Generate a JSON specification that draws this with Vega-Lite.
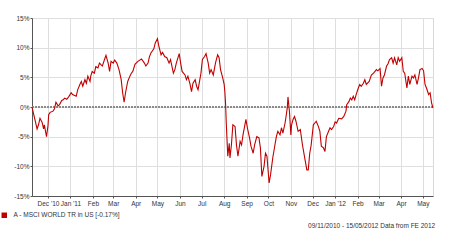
{
  "$schema": "https://vega.github.io/schema/vega-lite/v6.json",
  "width": 401,
  "height": 178,
  "autosize": "none",
  "padding": {"left": 32, "top": 18, "right": 17, "bottom": 45},
  "background": "white",
  "config": {
    "font": "Liberation Sans",
    "view": {"stroke": "#d9d9d9", "strokeWidth": 1},
    "axis": {"labelFont": "Liberation Sans", "labelFontSize": 6.5, "labelColor": "#333333", "gridColor": "#dedede", "gridWidth": 1, "title": null, "grid": true, "labelOverlap": false}
  },
  "title": {"text": "09/11/2010 - 15/05/2012 Data from FE 2012", "orient": "bottom", "anchor": "end", "fontSize": 6.5, "fontWeight": "normal", "color": "#333333", "font": "Liberation Sans", "offset": 4},
  "data": {"values": [
    {"d":"2010-11-09","v":0.0},{"d":"2010-11-12","v":-1.6},{"d":"2010-11-16","v":-3.7},{"d":"2010-11-18","v":-3.0},{"d":"2010-11-20","v":-1.9},{"d":"2010-11-23","v":-2.6},{"d":"2010-11-25","v":-3.7},{"d":"2010-11-26","v":-3.0},{"d":"2010-11-29","v":-5.0},
    {"d":"2010-12-01","v":-3.2},{"d":"2010-12-02","v":-1.3},{"d":"2010-12-04","v":-0.9},{"d":"2010-12-08","v":-0.7},{"d":"2010-12-10","v":-0.3},{"d":"2010-12-12","v":0.8},{"d":"2010-12-15","v":0.2},{"d":"2010-12-17","v":0.4},{"d":"2010-12-20","v":1.1},{"d":"2010-12-22","v":1.2},{"d":"2010-12-24","v":1.5},{"d":"2010-12-27","v":1.3},{"d":"2010-12-30","v":1.8},
    {"d":"2011-01-02","v":2.4},{"d":"2011-01-04","v":2.1},{"d":"2011-01-09","v":1.8},{"d":"2011-01-11","v":2.9},{"d":"2011-01-14","v":3.8},{"d":"2011-01-16","v":4.3},{"d":"2011-01-18","v":3.5},{"d":"2011-01-21","v":4.6},{"d":"2011-01-23","v":4.0},{"d":"2011-01-25","v":5.2},{"d":"2011-01-28","v":4.3},{"d":"2011-01-29","v":5.2},{"d":"2011-01-31","v":6.0},
    {"d":"2011-02-03","v":5.7},{"d":"2011-02-05","v":6.8},{"d":"2011-02-08","v":6.6},{"d":"2011-02-10","v":7.4},{"d":"2011-02-14","v":6.9},{"d":"2011-02-17","v":8.0},{"d":"2011-02-19","v":8.7},{"d":"2011-02-22","v":7.4},{"d":"2011-02-24","v":6.0},{"d":"2011-02-26","v":7.7},
    {"d":"2011-03-01","v":7.4},{"d":"2011-03-03","v":7.9},{"d":"2011-03-06","v":7.4},{"d":"2011-03-09","v":6.3},{"d":"2011-03-12","v":4.6},{"d":"2011-03-14","v":2.4},{"d":"2011-03-16","v":0.8},{"d":"2011-03-18","v":2.4},{"d":"2011-03-21","v":4.3},{"d":"2011-03-24","v":5.2},{"d":"2011-03-26","v":5.7},{"d":"2011-03-28","v":6.0},{"d":"2011-03-31","v":7.2},
    {"d":"2011-04-04","v":7.7},{"d":"2011-04-09","v":8.1},{"d":"2011-04-13","v":7.4},{"d":"2011-04-15","v":6.9},{"d":"2011-04-18","v":7.4},{"d":"2011-04-20","v":8.5},{"d":"2011-04-22","v":9.1},{"d":"2011-04-26","v":9.8},{"d":"2011-04-28","v":10.8},{"d":"2011-05-01","v":11.5},
    {"d":"2011-05-03","v":10.2},{"d":"2011-05-06","v":8.8},{"d":"2011-05-08","v":9.2},{"d":"2011-05-11","v":8.5},{"d":"2011-05-14","v":8.3},{"d":"2011-05-17","v":7.4},{"d":"2011-05-19","v":8.0},{"d":"2011-05-23","v":5.7},{"d":"2011-05-25","v":6.3},{"d":"2011-05-27","v":7.4},{"d":"2011-05-31","v":9.0},
    {"d":"2011-06-02","v":7.4},{"d":"2011-06-04","v":6.0},{"d":"2011-06-08","v":5.4},{"d":"2011-06-10","v":4.6},{"d":"2011-06-12","v":5.2},{"d":"2011-06-15","v":3.8},{"d":"2011-06-17","v":2.6},{"d":"2011-06-19","v":4.0},{"d":"2011-06-22","v":4.6},{"d":"2011-06-24","v":3.5},{"d":"2011-06-26","v":2.9},{"d":"2011-06-30","v":5.7},
    {"d":"2011-07-02","v":8.0},{"d":"2011-07-05","v":8.5},{"d":"2011-07-07","v":9.0},{"d":"2011-07-10","v":7.4},{"d":"2011-07-12","v":5.7},{"d":"2011-07-14","v":6.3},{"d":"2011-07-17","v":5.4},{"d":"2011-07-20","v":7.4},{"d":"2011-07-23","v":8.8},{"d":"2011-07-25","v":8.3},{"d":"2011-07-27","v":6.3},{"d":"2011-07-30","v":4.9},
    {"d":"2011-08-01","v":3.8},{"d":"2011-08-02","v":2.5},{"d":"2011-08-03","v":0.4},{"d":"2011-08-04","v":-3.0},{"d":"2011-08-06","v":-8.3},{"d":"2011-08-08","v":-6.1},{"d":"2011-08-09","v":-8.6},{"d":"2011-08-11","v":-6.4},{"d":"2011-08-13","v":-3.0},{"d":"2011-08-16","v":-3.3},{"d":"2011-08-18","v":-6.4},{"d":"2011-08-20","v":-8.3},{"d":"2011-08-23","v":-5.8},{"d":"2011-08-25","v":-6.4},{"d":"2011-08-27","v":-4.7},{"d":"2011-08-31","v":-2.1},
    {"d":"2011-09-02","v":-3.5},{"d":"2011-09-05","v":-5.2},{"d":"2011-09-07","v":-6.6},{"d":"2011-09-10","v":-7.8},{"d":"2011-09-12","v":-6.4},{"d":"2011-09-15","v":-5.0},{"d":"2011-09-18","v":-5.2},{"d":"2011-09-20","v":-6.9},{"d":"2011-09-22","v":-11.7},{"d":"2011-09-25","v":-10.0},{"d":"2011-09-27","v":-7.8},{"d":"2011-09-29","v":-8.3},
    {"d":"2011-10-02","v":-12.8},{"d":"2011-10-04","v":-11.4},{"d":"2011-10-07","v":-8.6},{"d":"2011-10-10","v":-6.4},{"d":"2011-10-12","v":-5.0},{"d":"2011-10-14","v":-4.1},{"d":"2011-10-17","v":-4.7},{"d":"2011-10-19","v":-3.5},{"d":"2011-10-21","v":-4.4},{"d":"2011-10-24","v":-2.7},{"d":"2011-10-25","v":-1.9},{"d":"2011-10-27","v":-0.2},{"d":"2011-10-28","v":1.7},{"d":"2011-10-30","v":-0.7},
    {"d":"2011-11-01","v":-4.7},{"d":"2011-11-02","v":-3.0},{"d":"2011-11-04","v":-2.1},{"d":"2011-11-06","v":-1.6},{"d":"2011-11-08","v":-2.4},{"d":"2011-11-11","v":-4.1},{"d":"2011-11-14","v":-3.8},{"d":"2011-11-17","v":-6.4},{"d":"2011-11-21","v":-9.2},{"d":"2011-11-23","v":-10.6},{"d":"2011-11-25","v":-10.6},{"d":"2011-11-27","v":-7.8},{"d":"2011-11-29","v":-6.4},
    {"d":"2011-12-02","v":-3.0},{"d":"2011-12-04","v":-2.7},{"d":"2011-12-06","v":-2.4},{"d":"2011-12-09","v":-3.3},{"d":"2011-12-11","v":-4.1},{"d":"2011-12-13","v":-6.6},{"d":"2011-12-16","v":-6.9},{"d":"2011-12-18","v":-7.5},{"d":"2011-12-20","v":-5.0},{"d":"2011-12-23","v":-4.1},{"d":"2011-12-25","v":-3.5},{"d":"2011-12-27","v":-3.8},{"d":"2011-12-30","v":-3.3},
    {"d":"2012-01-01","v":-2.5},{"d":"2012-01-03","v":-2.7},{"d":"2012-01-06","v":-1.9},{"d":"2012-01-10","v":-2.0},{"d":"2012-01-13","v":-1.6},{"d":"2012-01-16","v":-0.7},{"d":"2012-01-17","v":0.4},{"d":"2012-01-20","v":0.9},{"d":"2012-01-22","v":1.5},{"d":"2012-01-24","v":1.2},{"d":"2012-01-26","v":1.8},{"d":"2012-01-28","v":1.2},{"d":"2012-01-30","v":2.1},
    {"d":"2012-02-02","v":3.2},{"d":"2012-02-04","v":3.8},{"d":"2012-02-06","v":3.5},{"d":"2012-02-09","v":4.0},{"d":"2012-02-11","v":4.6},{"d":"2012-02-13","v":3.8},{"d":"2012-02-17","v":4.3},{"d":"2012-02-20","v":5.4},{"d":"2012-02-23","v":5.7},{"d":"2012-02-25","v":6.0},{"d":"2012-02-27","v":6.3},{"d":"2012-02-29","v":6.1},
    {"d":"2012-03-03","v":6.5},{"d":"2012-03-05","v":3.5},{"d":"2012-03-07","v":4.9},{"d":"2012-03-09","v":5.4},{"d":"2012-03-12","v":6.9},{"d":"2012-03-14","v":7.3},{"d":"2012-03-16","v":8.0},{"d":"2012-03-19","v":8.3},{"d":"2012-03-21","v":7.4},{"d":"2012-03-23","v":8.3},{"d":"2012-03-26","v":7.1},{"d":"2012-03-28","v":8.3},{"d":"2012-03-30","v":7.7},
    {"d":"2012-04-02","v":8.3},{"d":"2012-04-04","v":6.0},{"d":"2012-04-06","v":5.7},{"d":"2012-04-09","v":3.2},{"d":"2012-04-11","v":5.2},{"d":"2012-04-13","v":3.8},{"d":"2012-04-16","v":5.2},{"d":"2012-04-18","v":4.9},{"d":"2012-04-20","v":5.4},{"d":"2012-04-23","v":3.8},{"d":"2012-04-25","v":4.9},{"d":"2012-04-27","v":6.3},{"d":"2012-04-30","v":6.5},
    {"d":"2012-05-02","v":6.1},{"d":"2012-05-04","v":3.8},{"d":"2012-05-06","v":3.2},{"d":"2012-05-09","v":2.1},{"d":"2012-05-11","v":2.4},{"d":"2012-05-13","v":0.7},{"d":"2012-05-15","v":-0.17}
  ]},
  "layer": [
    {
      "mark": {"type": "rule", "color": "#8a8a8a", "strokeDash": [1.5, 1.5], "strokeWidth": 1},
      "encoding": {"y": {"datum": 0, "type": "quantitative",
          "scale": {"domain": [-15, 15], "nice": false},
          "axis": {"values": [-15, -10, -5, 0, 5, 10, 15], "labelExpr": "datum.value + '%'", "domainColor": "#555555", "tickColor": "#555555", "tickSize": 2, "labelPadding": 1}}}
    },
    {
      "encoding": {
        "x": {"field": "d", "type": "temporal",
          "scale": {"type": "utc", "domain": [{"year": 2010, "month": 11, "date": 9, "utc": true}, {"year": 2012, "month": 5, "date": 15, "utc": true}]},
          "axis": {
            "values": [
              {"year":2010,"month":12,"date":1,"utc":true},{"year":2011,"month":1,"date":1,"utc":true},{"year":2011,"month":2,"date":1,"utc":true},{"year":2011,"month":3,"date":1,"utc":true},{"year":2011,"month":4,"date":1,"utc":true},{"year":2011,"month":5,"date":1,"utc":true},{"year":2011,"month":6,"date":1,"utc":true},{"year":2011,"month":7,"date":1,"utc":true},{"year":2011,"month":8,"date":1,"utc":true},{"year":2011,"month":9,"date":1,"utc":true},{"year":2011,"month":10,"date":1,"utc":true},{"year":2011,"month":11,"date":1,"utc":true},{"year":2011,"month":12,"date":1,"utc":true},{"year":2012,"month":1,"date":1,"utc":true},{"year":2012,"month":2,"date":1,"utc":true},{"year":2012,"month":3,"date":1,"utc":true},{"year":2012,"month":4,"date":1,"utc":true},{"year":2012,"month":5,"date":1,"utc":true}
            ],
            "labelExpr": "(utcmonth(datum.value) == 0 || (utcmonth(datum.value) == 11 && utcyear(datum.value) == 2010)) ? utcFormat(datum.value, \"%b '%y\") : utcFormat(datum.value, '%b')",
            "domainColor": "#555555", "tickColor": "#555555", "tickSize": 2, "labelPadding": 2, "labelOverlap": false, "labelFlush": false
          }},
        "y": {"field": "v", "type": "quantitative",
          "scale": {"domain": [-15, 15], "nice": false},
          "axis": {"values": [-15, -10, -5, 0, 5, 10, 15], "labelExpr": "datum.value + '%'", "domainColor": "#555555", "tickColor": "#555555", "tickSize": 2, "labelPadding": 1}}
      },
      "layer": [
        {
          "mark": {"type": "line", "strokeWidth": 1.1, "interpolate": "linear"},
          "encoding": {
            "color": {"datum": "A - MSCI WORLD TR in US [-0.17%]", "type": "nominal",
              "scale": {"range": ["#c00000"]},
              "legend": {"title": null, "orient": "none", "legendX": -31, "legendY": 194, "symbolType": "square", "symbolSize": 30, "symbolFillColor": "#c00000", "symbolStrokeWidth": 0, "labelFontSize": 6.5, "labelColor": "#333333", "labelFont": "Liberation Sans", "labelOffset": 6}}
          }
        },
        {
          "transform": [{"filter": "datum.d == '2012-05-15'"}],
          "mark": {"type": "text", "text": "A", "dx": 5, "dy": 1, "fontSize": 6.5, "fontWeight": "bold", "color": "#333333", "align": "center"}
        }
      ]
    }
  ]
}
